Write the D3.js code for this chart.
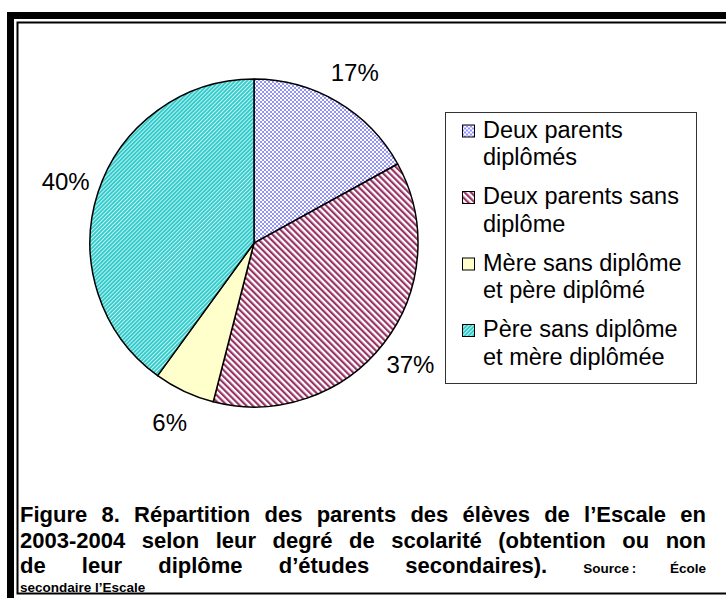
<!DOCTYPE html>
<html>
<head>
<meta charset="utf-8">
<script src="https://cdn.jsdelivr.net/npm/d3@7"></script>
<style>
  body { margin: 0; background: #fff; }
  text { font-family: "Liberation Sans", Arial, sans-serif; }
</style>
</head>
<body>
<div class="svg-container"></div>
<script>
// chart data
const categories = ['Deux parents diplômés', 'Deux parents sans diplôme', 'Mère sans diplôme et père diplômé', 'Père sans diplôme et mère diplômée'];
const legendLines = [['Deux parents', 'diplômés'], ['Deux parents sans', 'diplôme'], ['Mère sans diplôme', 'et père diplômé'], ['Père sans diplôme', 'et mère diplômée']];
const values = [17, 37, 6, 40];
const fills = ['url(#checker)', 'url(#maroon)', '#ffffcc', 'url(#teal)'];
// U+202F keeps "Source :" tight when the line is justified
const captionLines = [
  [{ t: 'Figure 8. Répartition des parents des élèves de l’Escale en' }],
  [{ t: '2003-2004 selon leur degré de scolarité (obtention ou non' }],
  [{ t: 'de leur diplôme d’études secondaires). ' }, { t: 'Source\u202F: École', small: true }],
  [{ t: 'secondaire  l’Escale', small: true }]
];

const width = 726;
const height = 598;

const svg = d3.select('.svg-container')
  .append('svg')
  .attr('width', width)
  .attr('height', height);

// fill patterns
const defs = svg.append('defs');
const checker = defs.append('pattern').attr('id', 'checker')
  .attr('width', 4).attr('height', 4).attr('patternUnits', 'userSpaceOnUse');
checker.append('rect').attr('width', 4).attr('height', 4).attr('fill', '#fff');
checker.append('rect').attr('width', 2).attr('height', 2).attr('fill', '#9393ff');
checker.append('rect').attr('x', 2).attr('y', 2).attr('width', 2).attr('height', 2).attr('fill', '#9393ff');

const stripe = (id, color, period, thick, angle) => {
  const p = defs.append('pattern').attr('id', id)
    .attr('width', period).attr('height', 10).attr('patternUnits', 'userSpaceOnUse')
    .attr('patternTransform', `rotate(${angle})`);
  p.append('rect').attr('width', period).attr('height', 10).attr('fill', '#fff');
  p.append('rect').attr('width', thick).attr('height', 10).attr('fill', color);
};
stripe('maroon', '#993366', 4.5, 2.2, -45);
stripe('teal', '#33cccc', 2.8, 2.1, 45);

// page frame
svg.append('path')
  .attr('d', `M10.5,${height} V15.5 H${width + 5}`)
  .attr('fill', 'none').attr('stroke', '#000').attr('stroke-width', 7);
svg.append('rect')
  .attr('x', 17.5).attr('y', 22.5).attr('width', width).attr('height', 571)
  .attr('fill', 'none').attr('stroke', '#000').attr('stroke-width', 2);

// pie
const cx = 254, cy = 243, radius = 164;
const pie = d3.pie().sort(null).value(d => d);
const arcs = pie(values);
const arc = d3.arc().innerRadius(0).outerRadius(radius);
const labelArc = d3.arc().innerRadius(198).outerRadius(198);

const g = svg.append('g').attr('transform', `translate(${cx},${cy})`);
g.selectAll('path')
  .data(arcs)
  .enter()
  .append('path')
  .attr('d', arc)
  .attr('fill', (d, i) => fills[i])
  .attr('stroke', '#000')
  .attr('stroke-width', 1.5)
  .attr('stroke-linejoin', 'round');

g.selectAll('text.pct')
  .data(arcs)
  .enter()
  .append('text')
  .attr('class', 'pct')
  .attr('x', d => labelArc.centroid(d)[0])
  .attr('y', d => labelArc.centroid(d)[1])
  .attr('text-anchor', 'middle')
  .attr('dy', '0.35em')
  .attr('font-size', 24)
  .attr('fill', '#000')
  .text(d => `${d.data}%`);

// legend
const legend = svg.append('g');
legend.append('rect')
  .attr('x', 445.5).attr('y', 112.5).attr('width', 251).attr('height', 271)
  .attr('fill', '#fff').attr('stroke', '#333').attr('stroke-width', 1);

const item = legend.selectAll('g.item')
  .data(categories)
  .enter()
  .append('g')
  .attr('class', 'item')
  .attr('transform', (d, i) => `translate(462,${137.5 + i * 66.5})`);

item.append('rect')
  .attr('x', 0.5).attr('y', -12.5).attr('width', 12).attr('height', 12)
  .attr('fill', (d, i) => fills[i])
  .attr('stroke', '#000').attr('stroke-width', 1);

item.append('text')
  .attr('x', 21)
  .attr('font-size', 23.5)
  .attr('fill', '#000')
  .selectAll('tspan')
  .data((d, i) => legendLines[i])
  .enter()
  .append('tspan')
  .attr('x', 21)
  .attr('dy', (d, i) => i === 0 ? 0 : 27.5)
  .text(d => d);

// caption, justified
const capLeft = 20, capRight = 706;
const capBase = [522, 548, 573, 592];
captionLines.forEach((parts, li) => {
  const t = svg.append('text')
    .attr('x', capLeft)
    .attr('y', capBase[li])
    .attr('font-weight', 'bold')
    .attr('font-size', 22)
    .attr('fill', '#000');
  parts.forEach(p => {
    t.append('tspan')
      .attr('font-size', p.small ? 13.5 : 22)
      .text(p.t);
  });
  if (li < captionLines.length - 1) {
    const full = parts.map(p => p.t).join('');
    const gaps = (full.match(/ /g) || []).length;
    const len = t.node().getComputedTextLength();
    t.style('word-spacing', `${(capRight - capLeft - len) / gaps}px`);
  }
});
</script>
</body>
</html>
